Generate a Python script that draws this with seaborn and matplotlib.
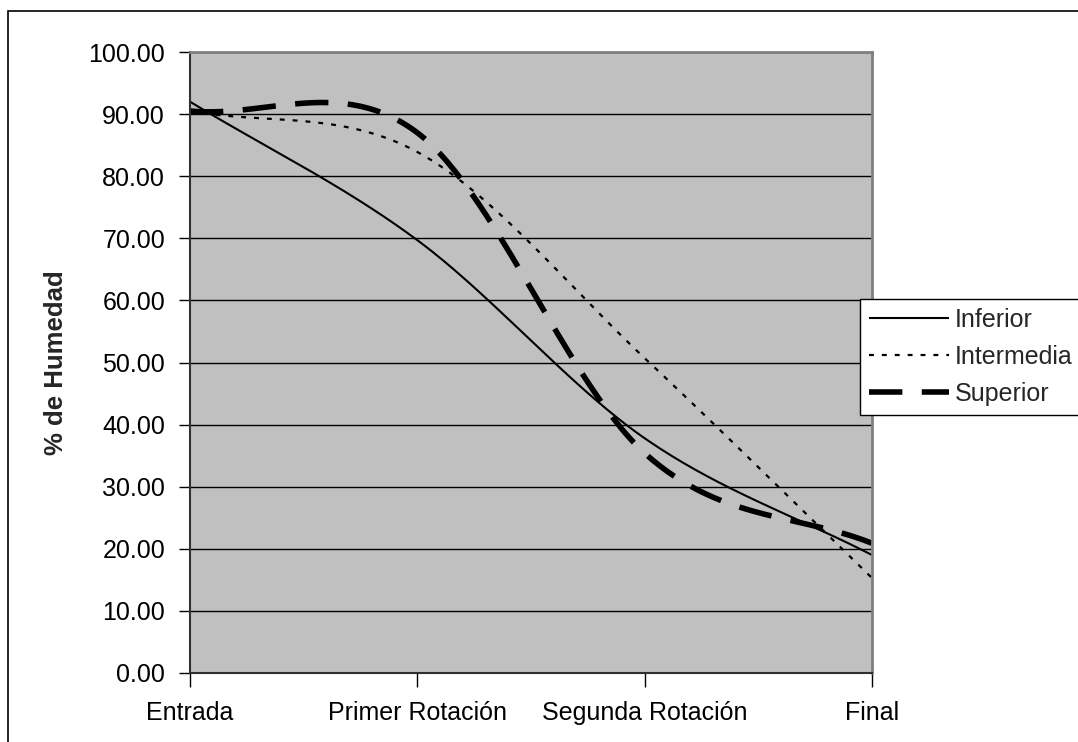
import numpy as np
import pandas as pd
import matplotlib
matplotlib.use("Agg")
import matplotlib.pyplot as plt
import seaborn as sns
from matplotlib.patches import Rectangle

categories = ["Entrada", "Primer Rotación", "Segunda Rotación", "Final"]
inferior = [92.0, 69.7, 37.8, 19.0]
intermedia = [90.5, 83.9, 50.7, 15.3]
superior = [90.5, 87.0, 35.4, 20.9]
series_names = ["Inferior", "Intermedia", "Superior"]
y_ticks = [0, 10, 20, 30, 40, 50, 60, 70, 80, 90, 100]


def smooth(values, n=60):
    """Excel-like smoothed line (cubic Hermite through the data points)."""
    p = np.asarray(values, dtype=float)
    # reflected end points, as Excel's smoothing behaves
    ext = np.concatenate([[2 * p[0] - p[1]], p, [2 * p[-1] - p[-2]]])
    xs, ys = [], []
    for i in range(len(p) - 1):
        p0, p1, p2, p3 = ext[i], ext[i + 1], ext[i + 2], ext[i + 3]
        m1 = (p2 - p0) / 2.0
        m2 = (p3 - p1) / 2.0
        t = np.linspace(0, 1, n, endpoint=(i == len(p) - 2))
        h00 = 2 * t**3 - 3 * t**2 + 1
        h10 = t**3 - 2 * t**2 + t
        h01 = -2 * t**3 + 3 * t**2
        h11 = t**3 - t**2
        ys.append(h00 * p1 + h10 * m1 + h01 * p2 + h11 * m2)
        xs.append(i + t)
    return np.concatenate(xs), np.concatenate(ys)


rows = []
for name, vals in zip(series_names, [inferior, intermedia, superior]):
    sx, sy = smooth(vals)
    rows.append(pd.DataFrame({"x": sx, "y": sy, "serie": name}))
df = pd.concat(rows, ignore_index=True)

sns.set_theme(style="white")
plt.rcParams["font.family"] = ["Liberation Sans", "DejaVu Sans"]

fig = plt.figure(figsize=(10.78, 7.42), dpi=100)
ax = fig.add_axes([190 / 1078, 1 - 673 / 742, (872 - 190) / 1078, (673 - 52) / 742])
ax.set_facecolor("#C0C0C0")

styles = {
    "Inferior": dict(lw=1.5, dashes=None),
    "Intermedia": dict(lw=1.6, dashes=(2.2, 3.6)),
    "Superior": dict(lw=4.0, dashes=(6, 3.5)),
}
handles = []
for name in series_names:
    sub = df[df["serie"] == name]
    st = styles[name]
    sns.lineplot(data=sub, x="x", y="y", ax=ax, color="black", lw=st["lw"],
                 sort=False, estimator=None, legend=False)
    line = ax.lines[-1]
    if st["dashes"] is not None:
        line.set_dashes(st["dashes"])
    line.set_solid_capstyle("butt")
    line.set_dash_capstyle("butt")
    handles.append(line)

ax.set_xlim(0, 3)
ax.set_ylim(0, 100)
ax.set_xticks(range(len(categories)))
ax.set_xticklabels(categories)
ax.set_yticks(y_ticks)
ax.set_yticklabels([f"{v:.2f}" for v in y_ticks])
ax.yaxis.grid(True, color="black", lw=1.0)
ax.set_axisbelow(True)
ax.tick_params(axis="both", direction="out", labelsize=18, colors="black")
ax.tick_params(axis="y", length=8, width=1, pad=10, left=True)
ax.tick_params(axis="x", length=10, width=1, pad=10, bottom=True)
ax.set_xlabel("")
ax.set_ylabel("% de Humedad", fontsize=18.5, fontweight="bold")
ax.yaxis.set_label_coords((68 - 190) / 682, 0.5)

for s in ["top", "right"]:
    ax.spines[s].set_color("#808080")
    ax.spines[s].set_linewidth(2)
for s in ["left", "bottom"]:
    ax.spines[s].set_color("#303030")
    ax.spines[s].set_linewidth(1.5)

leg = ax.legend(handles, series_names, loc="upper left",
                bbox_to_anchor=(860 / 1078, 1 - 299 / 742),
                bbox_transform=fig.transFigure, fontsize=18, frameon=True,
                fancybox=False, shadow=False, borderaxespad=0, borderpad=0.35,
                handlelength=3.2, handletextpad=0.25, labelspacing=0.52)
leg.get_frame().set_edgecolor("black")
leg.get_frame().set_linewidth(1.0)
leg.get_frame().set_facecolor("white")
leg.get_frame().set_alpha(1)

fig.patches.append(Rectangle((8 / 1078, -0.1), 1.2, 1 - 11 / 742 + 0.1,
                             transform=fig.transFigure, fill=False,
                             ec="black", lw=1.2))

fig.savefig("out.png", dpi=100)
